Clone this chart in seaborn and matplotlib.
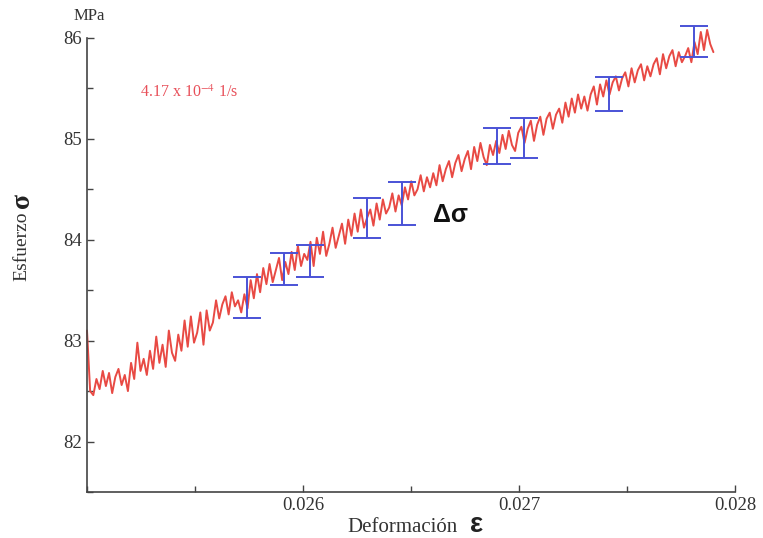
import numpy as np
import matplotlib
matplotlib.use("Agg")
import matplotlib.pyplot as plt
import seaborn as sns
from matplotlib.ticker import MultipleLocator, FormatStrFormatter

# ---------------- data ----------------
strain_start, strain_end = 0.02500, 0.02790
stress = [
    83.10, 82.50, 82.46, 82.62, 82.52, 82.70, 82.55, 82.68, 82.48, 82.64,
    82.72, 82.56, 82.66, 82.50, 82.78, 82.62, 82.98, 82.70, 82.82, 82.66,
    82.90, 82.72, 83.04, 82.78, 82.96, 82.74, 83.10, 82.88, 82.80, 83.06,
    82.90, 83.20, 82.94, 83.24, 82.98, 83.08, 83.28, 82.96, 83.30, 83.10,
    83.18, 83.40, 83.22, 83.36, 83.44, 83.26, 83.48, 83.34, 83.40, 83.28,
    83.46, 83.32, 83.60, 83.42, 83.66, 83.48, 83.72, 83.56, 83.76, 83.58,
    83.70, 83.82, 83.60, 83.78, 83.66, 83.88, 83.70, 83.94, 83.74, 83.86,
    83.80, 83.98, 83.74, 84.02, 83.86, 84.08, 83.84, 83.96, 84.12, 83.92,
    84.04, 84.16, 83.96, 84.20, 84.04, 84.26, 84.08, 84.30, 84.12, 84.22,
    84.30, 84.14, 84.36, 84.20, 84.40, 84.26, 84.32, 84.46, 84.28, 84.44,
    84.34, 84.52, 84.40, 84.58, 84.44, 84.50, 84.64, 84.48, 84.62, 84.52,
    84.66, 84.54, 84.74, 84.58, 84.70, 84.78, 84.62, 84.76, 84.84, 84.68,
    84.80, 84.88, 84.70, 84.92, 84.78, 84.96, 84.82, 84.74, 84.94, 84.84,
    84.98, 84.86, 85.04, 84.90, 85.08, 84.94, 84.88, 85.06, 85.12, 84.96,
    85.10, 85.18, 84.98, 85.14, 85.22, 85.04, 85.20, 85.26, 85.10, 85.24,
    85.30, 85.16, 85.36, 85.22, 85.40, 85.26, 85.44, 85.30, 85.42, 85.28,
    85.44, 85.52, 85.34, 85.54, 85.42, 85.58, 85.44, 85.56, 85.62, 85.48,
    85.60, 85.66, 85.52, 85.70, 85.56, 85.68, 85.74, 85.58, 85.72, 85.62,
    85.74, 85.80, 85.64, 85.84, 85.70, 85.82, 85.88, 85.72, 85.86, 85.76,
    85.82, 85.90, 85.76, 85.96, 85.84, 86.06, 85.88, 86.08, 85.94, 85.86,
]
strain = np.linspace(strain_start, strain_end, len(stress))

# error bars (delta sigma)
eb_x = [0.025741, 0.025912, 0.026032, 0.026298, 0.026458,
        0.026897, 0.027023, 0.027417, 0.027812]
eb_lo = [83.22, 83.55, 83.63, 84.02, 84.15, 84.75, 84.81, 85.28, 85.81]
eb_hi = [83.63, 83.87, 83.95, 84.41, 84.57, 85.11, 85.21, 85.61, 86.12]

x_ticks = [0.026, 0.027, 0.028]
y_ticks = [82, 83, 84, 85, 86]

# ---------------- plot ----------------
sns.set_style("ticks")
plt.rcParams["font.family"] = ["Liberation Serif", "DejaVu Serif"]
plt.rcParams["mathtext.fontset"] = "stix"

fig = plt.figure(figsize=(7.63, 5.38), dpi=100)
ax = fig.add_axes([87 / 763, 46 / 538, (735 - 87) / 763, (492 - 38) / 538])

sns.lineplot(x=strain, y=stress, ax=ax, color="#e84a44", linewidth=1.4,
             estimator=None, sort=False, clip_on=False)

eb_x = np.array(eb_x)
eb_lo = np.array(eb_lo)
eb_hi = np.array(eb_hi)
cont = ax.errorbar(eb_x, (eb_lo + eb_hi) / 2, yerr=(eb_hi - eb_lo) / 2,
                   fmt="none", ecolor="#4a52d6", elinewidth=1.4, capsize=10,
                   capthick=1.4, zorder=5)
for art in cont.lines[1] + cont.lines[2]:
    art.set_clip_on(False)
for art in cont.lines[2]:
    art.set_clip_on(False)

ax.set_xlim(0.0250, 0.0280)
ax.set_ylim(81.5, 86.0)
ax.set_xticks(x_ticks)
ax.set_yticks(y_ticks)
ax.xaxis.set_major_formatter(FormatStrFormatter("%.3f"))
ax.yaxis.set_major_formatter(FormatStrFormatter("%d"))
ax.xaxis.set_minor_locator(MultipleLocator(0.0005))
ax.yaxis.set_minor_locator(MultipleLocator(0.5))
ax.tick_params(which="both", direction="in", color="#444444", width=1.0,
               labelsize=13.5, labelcolor="#333333")
ax.tick_params(which="major", length=5)
ax.tick_params(which="minor", length=4)
for s in ["top", "right"]:
    ax.spines[s].set_visible(False)
for s in ["left", "bottom"]:
    ax.spines[s].set_color("#444444")
    ax.spines[s].set_linewidth(1.2)
ax.set_xlabel("")
ax.set_ylabel("")

# labels
fig.text(89 / 763, 1 - 16 / 538, "MPa", ha="center", va="center",
         fontsize=12, color="#333333")
fig.text(22 / 763, 1 - 246 / 538, "Esfuerzo", rotation=90, ha="center",
         va="center", fontsize=14, color="#333333")
fig.text(22 / 763, 1 - 200 / 538, "σ", rotation=90, ha="center",
         va="center", fontsize=20, fontweight="bold", color="#222222")
fig.text(403 / 763, 1 - 527 / 538, "Deformación", ha="center",
         va="center", fontsize=15, color="#333333")
fig.text(477 / 763, 1 - 525 / 538, "ε", ha="center", va="center",
         fontsize=20, fontweight="bold", color="#222222",
         family=["Liberation Sans", "DejaVu Sans"])
fig.text(140 / 763, 1 - 93 / 538, r"4.17 x 10$^{-4}$ 1/s", ha="left",
         va="center", fontsize=11.5, color="#e8505a")
fig.text(451 / 763, 1 - 215 / 538, "Δσ", ha="center", va="center",
         fontsize=18, fontweight="bold", color="#111111",
         family=["Liberation Sans", "DejaVu Sans"])

fig.savefig("out.png", dpi=100)
